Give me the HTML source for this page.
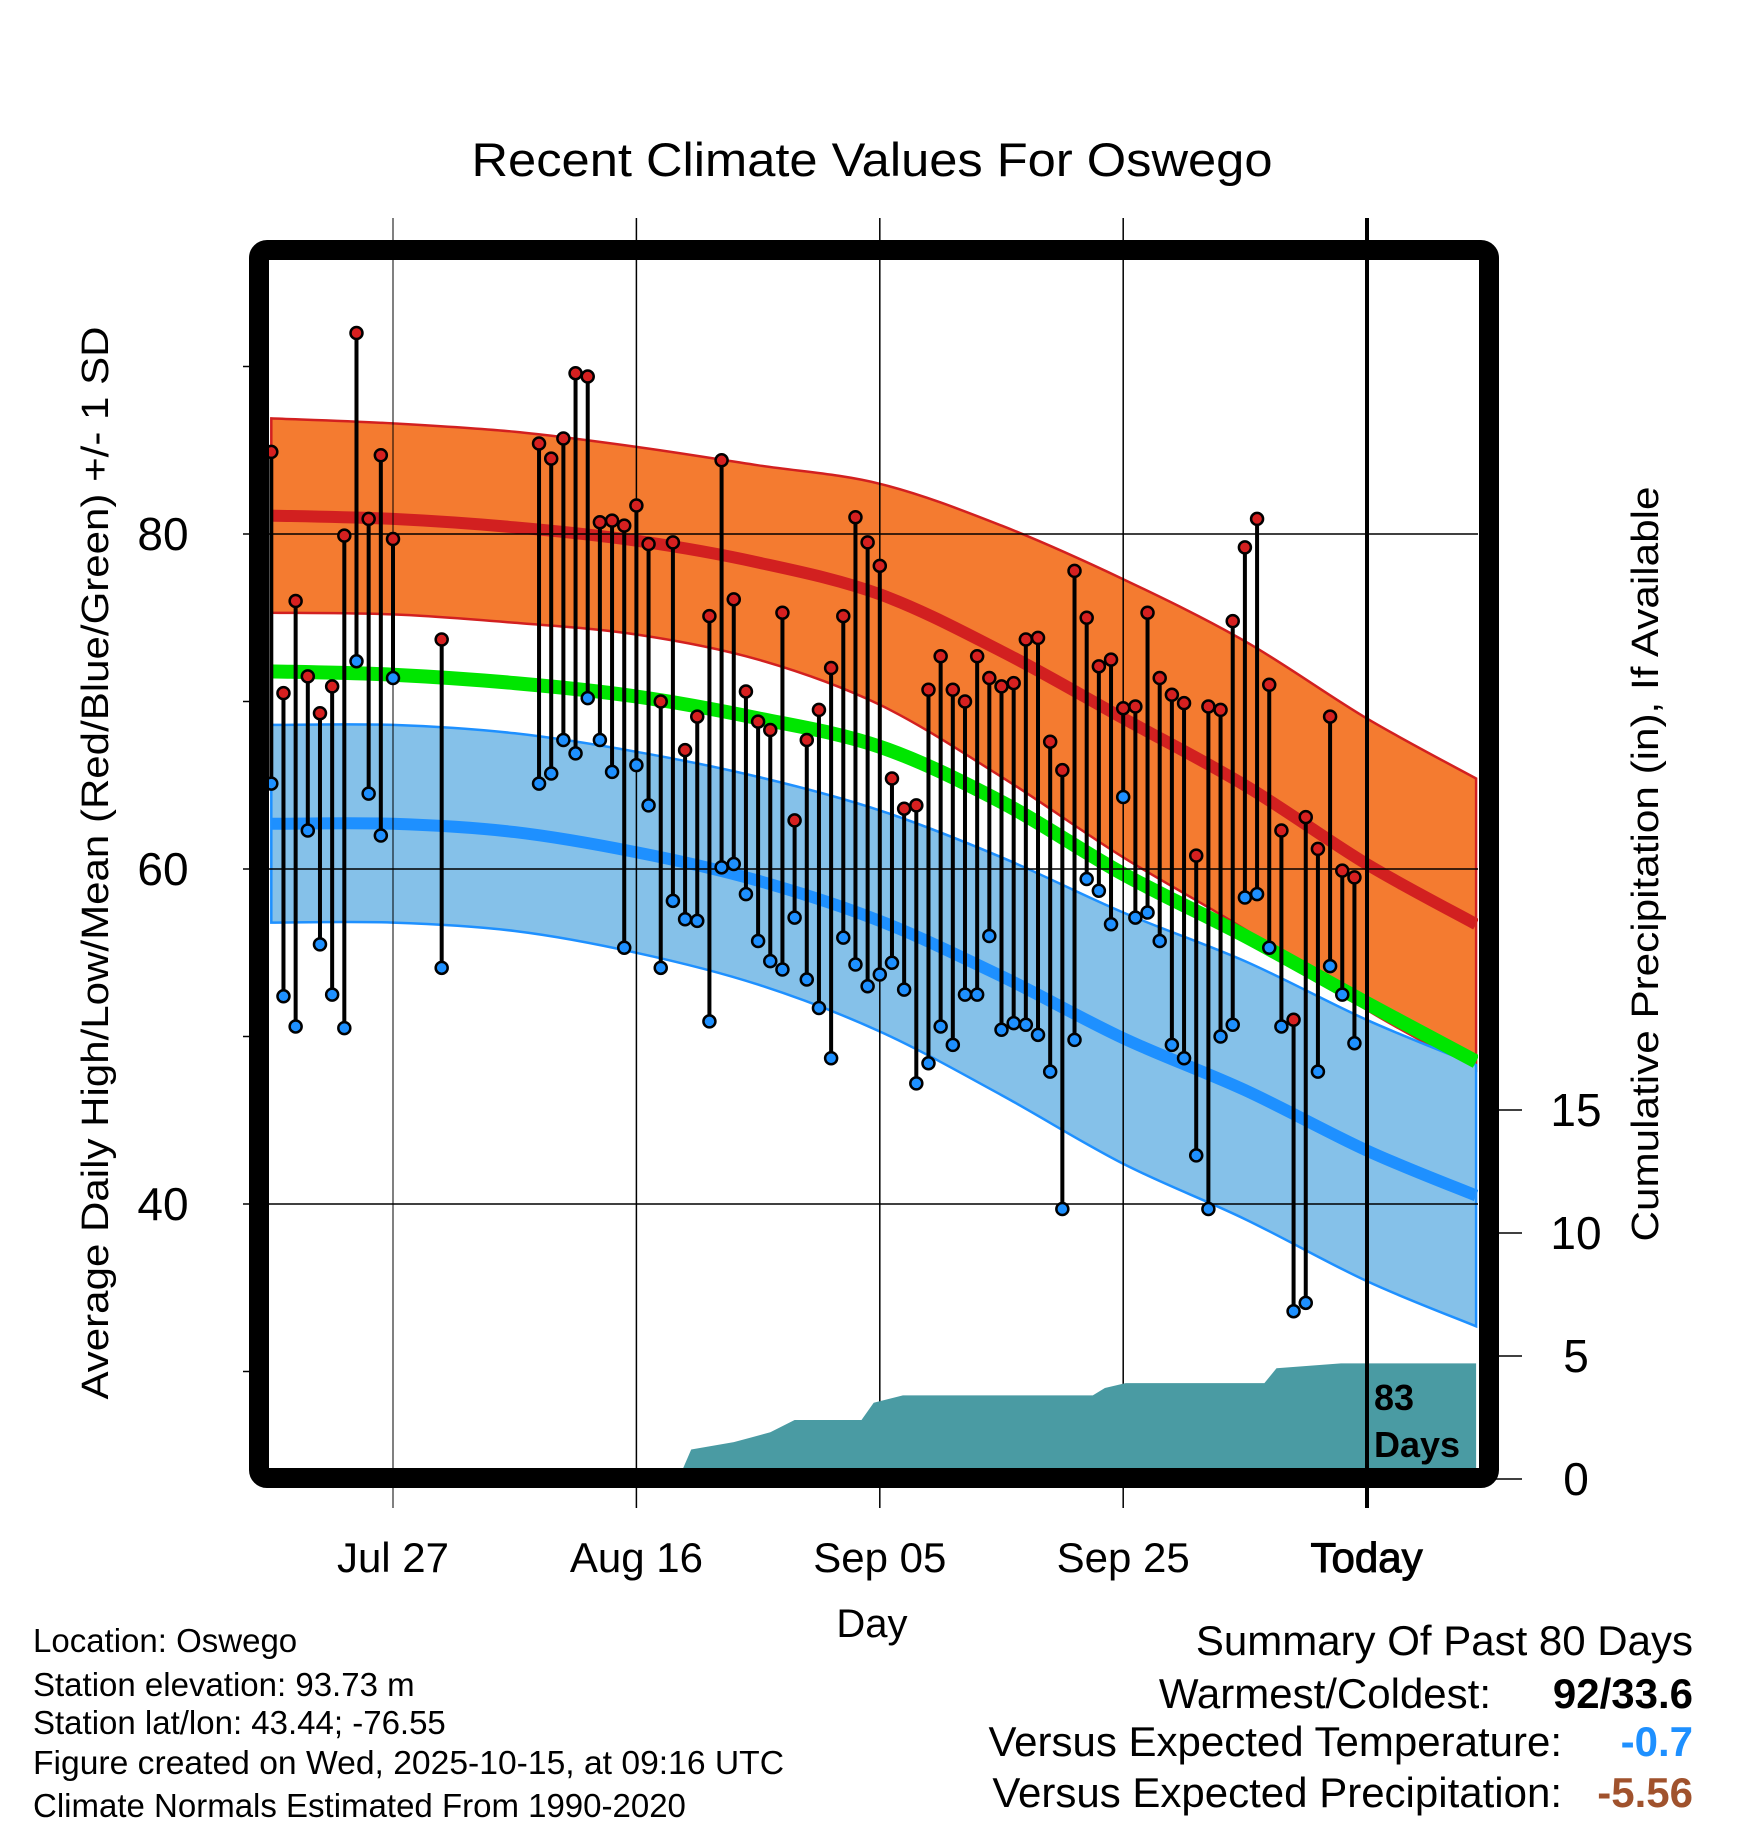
<!DOCTYPE html>
<html><head><meta charset="utf-8"><style>
html,body{margin:0;padding:0;background:#fff;}
svg{display:block;font-family:"Liberation Sans",sans-serif;}
</style></head><body>
<svg id="chart" width="1748" height="1828" viewBox="0 0 1748 1828">
<defs><clipPath id="plotclip"><rect x="269" y="260" width="1209" height="1208"/></clipPath></defs>
<text x="872" y="176" text-anchor="middle" font-size="47" textLength="801" lengthAdjust="spacingAndGlyphs">Recent Climate Values For Oswego</text>
<g id="bands" clip-path="url(#plotclip)"></g>
<g id="grid"></g>
<g id="precip" clip-path="url(#plotclip)"></g>
<g id="marks"></g>
<rect x="259" y="250" width="1230" height="1228" rx="8" fill="none" stroke="#000" stroke-width="20"/>
<line x1="1367" y1="218" x2="1367" y2="1508" stroke="#000" stroke-width="4"/>
<text x="1374" y="1410" font-size="36" font-weight="bold">83</text>
<text x="1374" y="1457" font-size="36" font-weight="bold">Days</text>
<g id="axes"></g>
<text transform="translate(108,863) rotate(-90)" text-anchor="middle" font-size="38" textLength="1073" lengthAdjust="spacingAndGlyphs">Average Daily High/Low/Mean (Red/Blue/Green) +/- 1 SD</text>
<text transform="translate(1658,864) rotate(-90)" text-anchor="middle" font-size="38" textLength="755" lengthAdjust="spacingAndGlyphs">Cumulative Precipitation (in), If Available</text>
<text x="872" y="1637" text-anchor="middle" font-size="40">Day</text>
<g font-size="33">
<text x="33" y="1652">Location: Oswego</text>
<text x="33" y="1696">Station elevation: 93.73 m</text>
<text x="33" y="1734">Station lat/lon: 43.44; -76.55</text>
<text x="33" y="1774" textLength="751" lengthAdjust="spacingAndGlyphs">Figure created on Wed, 2025-10-15, at 09:16 UTC</text>
<text x="33" y="1817">Climate Normals Estimated From 1990-2020</text>
</g>
<g font-size="42">
<text x="1693" y="1655" text-anchor="end">Summary Of Past 80 Days</text>
<text x="1491" y="1708" text-anchor="end">Warmest/Coldest:</text>
<text x="1693" y="1708" text-anchor="end" font-weight="bold">92/33.6</text>
<text x="1562" y="1756" text-anchor="end">Versus Expected Temperature:</text>
<text x="1693" y="1756" text-anchor="end" font-weight="bold" fill="#1E90FF">-0.7</text>
<text x="1562" y="1807" text-anchor="end">Versus Expected Precipitation:</text>
<text x="1693" y="1807" text-anchor="end" font-weight="bold" fill="#A0522D">-5.56</text>
</g>
</svg>
<script>
const days=[-10,-9,-8,-7,-6,-5,-4,-3,-2,-1,0,4,12,13,14,15,16,17,18,19,20,21,22,23,24,25,26,27,28,29,30,31,32,33,34,35,36,37,38,39,40,41,42,43,44,45,46,47,48,49,50,51,52,53,54,55,56,57,58,59,60,61,62,63,64,65,66,67,68,69,70,71,72,73,74,75,76,77,78,79];
const highs=[84.9,70.5,76.0,71.5,69.3,70.9,79.9,92.0,80.9,84.7,79.7,73.7,85.4,84.5,85.7,89.6,89.4,80.7,80.8,80.5,81.7,79.4,70.0,79.5,67.1,69.1,75.1,84.4,76.1,70.6,68.8,68.3,75.3,62.9,67.7,69.5,72.0,75.1,81.0,79.5,78.1,65.4,63.6,63.8,70.7,72.7,70.7,70.0,72.7,71.4,70.9,71.1,73.7,73.8,67.6,65.9,77.8,75.0,72.1,72.5,69.6,69.7,75.3,71.4,70.4,69.9,60.8,69.7,69.5,74.8,79.2,80.9,71.0,62.3,51.0,63.1,61.2,69.1,59.9,59.5];
const lows=[65.1,52.4,50.6,62.3,55.5,52.5,50.5,72.4,64.5,62.0,71.4,54.1,65.1,65.7,67.7,66.9,70.2,67.7,65.8,55.3,66.2,63.8,54.1,58.1,57.0,56.9,50.9,60.1,60.3,58.5,55.7,54.5,54.0,57.1,53.4,51.7,48.7,55.9,54.3,53.0,53.7,54.4,52.8,47.2,48.4,50.6,49.5,52.5,52.5,56.0,50.4,50.8,50.7,50.1,47.9,39.7,49.8,59.4,58.7,56.7,64.3,57.1,57.4,55.7,49.5,48.7,42.9,39.7,50.0,50.7,58.3,58.5,55.3,50.6,33.6,34.1,47.9,54.2,52.5,49.6];
const normDays=[-10,0,10,20,30,40,50,60,70,80,89];
const normHigh=[81.1,80.9,80.4,79.6,78.3,76.4,73.0,69.0,65.0,60.3,56.7];
const sdHigh=[5.8,5.7,5.7,5.6,5.8,6.6,7.5,8.3,8.6,8.7,8.7];
const normLow=[62.7,62.7,62.2,61.0,59.3,56.9,53.6,49.9,46.8,43.2,40.5];
const sdLow=[5.9,5.9,5.9,6.0,6.2,6.6,7.1,7.5,7.7,7.8,7.8];
const normMean=[71.8,71.6,71.1,70.3,69.0,67.3,64.0,59.7,56.0,52.0,48.5];
const precipDays=[-10,-1,0,23.5,24.5,28,29.5,31,33,38.5,39.5,41.9,57.5,58.5,60.2,71.6,72.6,77.9,89];
const precipVals=[0,0,0.05,0.05,1.2,1.5,1.7,1.9,2.4,2.4,3.1,3.4,3.4,3.7,3.9,3.9,4.5,4.7,4.7];
const xTickDays=[0,20,40,60,80];
const xTickLabels=["Jul 27","Aug 16","Sep 05","Sep 25","Today"];
const yTicks=[40,60,80];
const yMinor=[30,50,70,90];
const pTicks=[0,5,10,15];

const NS="http://www.w3.org/2000/svg";
const x=d=>393+12.17*d;
const y=t=>534+(80-t)*16.75;
const yp=p=>1479-p*24.6;
function mk(tag,attrs,parent){const e=document.createElementNS(NS,tag);for(const k in attrs)e.setAttribute(k,attrs[k]);parent.appendChild(e);return e;}
const bands=document.getElementById('bands'),grid=document.getElementById('grid'),precip=document.getElementById('precip'),marks=document.getElementById('marks'),axes=document.getElementById('axes');
function smooth(vals,rev){
  let pts=normDays.map((d,i)=>[x(d),y(vals[i])]);
  if(rev)pts=pts.reverse();
  let s='';
  for(let i=0;i<pts.length-1;i++){
    const p0=pts[Math.max(0,i-1)],p1=pts[i],p2=pts[i+1],p3=pts[Math.min(pts.length-1,i+2)];
    const c1=[p1[0]+(p2[0]-p0[0])/6,p1[1]+(p2[1]-p0[1])/6];
    const c2=[p2[0]-(p3[0]-p1[0])/6,p2[1]-(p3[1]-p1[1])/6];
    s+='C'+c1.map(v=>v.toFixed(1)).join(',')+' '+c2.map(v=>v.toFixed(1)).join(',')+' '+p2.map(v=>v.toFixed(1)).join(',');
  }
  return {start:pts[0],s:s};
}
function line(vals){const r=smooth(vals,false);return 'M'+r.start[0].toFixed(1)+','+r.start[1].toFixed(1)+r.s;}
function band(up,lo){const a=smooth(up,false),b=smooth(lo,true);return 'M'+a.start[0].toFixed(1)+','+a.start[1].toFixed(1)+a.s+'L'+b.start[0].toFixed(1)+','+b.start[1].toFixed(1)+b.s+'Z';}
const hiU=normHigh.map((v,i)=>v+sdHigh[i]),hiL=normHigh.map((v,i)=>v-sdHigh[i]);
const loU=normLow.map((v,i)=>v+sdLow[i]),loL=normLow.map((v,i)=>v-sdLow[i]);
let e;
e=mk('path',{d:band(hiU,hiL),fill:'#F47B30',stroke:'#D22020','stroke-width':2.5},bands);


e=mk('path',{d:band(loU,loL),fill:'#85C1E9',stroke:'#1E90FF','stroke-width':2.5},bands);


e=mk('path',{d:line(normHigh),fill:'none',stroke:'#D22020','stroke-width':12},bands);


e=mk('path',{d:line(normLow),fill:'none',stroke:'#1E90FF','stroke-width':12},bands);


e=mk('path',{d:line(normMean),fill:'none',stroke:'#00E600','stroke-width':14},bands);


// grid
yTicks.forEach(t=>{e=mk('line',{x1:243,x2:1478,y1:y(t),y2:y(t),stroke:'#000','stroke-width':1.5},grid);


const tx=mk('text',{x:163,y:y(t)+16,'text-anchor':'middle','font-size':46},axes);tx.textContent=t;

});
yMinor.forEach(t=>{e=mk('line',{x1:243,x2:259,y1:y(t),y2:y(t),stroke:'#000','stroke-width':1.5},grid);

});
xTickDays.forEach((d,i)=>{if(i<4){e=mk('line',{x1:x(d),x2:x(d),y1:218,y2:1508,stroke:'#000','stroke-width':i==0?1:1.5},grid);

}
const tx=mk('text',{x:x(d),y:1572,'text-anchor':'middle','font-size':42},axes);tx.textContent=xTickLabels[i];
if(i==4){tx.setAttribute('stroke','#000');tx.setAttribute('stroke-width','1');}

});
pTicks.forEach(p=>{e=mk('line',{x1:1489,x2:1522,y1:yp(p),y2:yp(p),stroke:'#000','stroke-width':1.5},axes);


const tx=mk('text',{x:1576,y:yp(p)+16,'text-anchor':'middle','font-size':46},axes);tx.textContent=p;

});
// precip
let pd='M'+x(precipDays[0])+','+1470;
precipDays.forEach((d,i)=>{pd+='L'+x(d).toFixed(1)+','+yp(precipVals[i]).toFixed(1);});
pd+='L'+x(precipDays[precipDays.length-1])+',1470Z';
e=mk('path',{d:pd,fill:'#4A9BA3'},precip);


// stems and dots
days.forEach((d,i)=>{e=mk('line',{x1:x(d),x2:x(d),y1:y(highs[i]),y2:y(lows[i]),stroke:'#000','stroke-width':4},marks);

});
days.forEach((d,i)=>{
e=mk('circle',{cx:x(d),cy:y(highs[i]),r:6,fill:'#D62020',stroke:'#000','stroke-width':2.5},marks);


e=mk('circle',{cx:x(d),cy:y(lows[i]),r:6,fill:'#1E90FF',stroke:'#000','stroke-width':2.5},marks);

});
</script>
</body></html>
